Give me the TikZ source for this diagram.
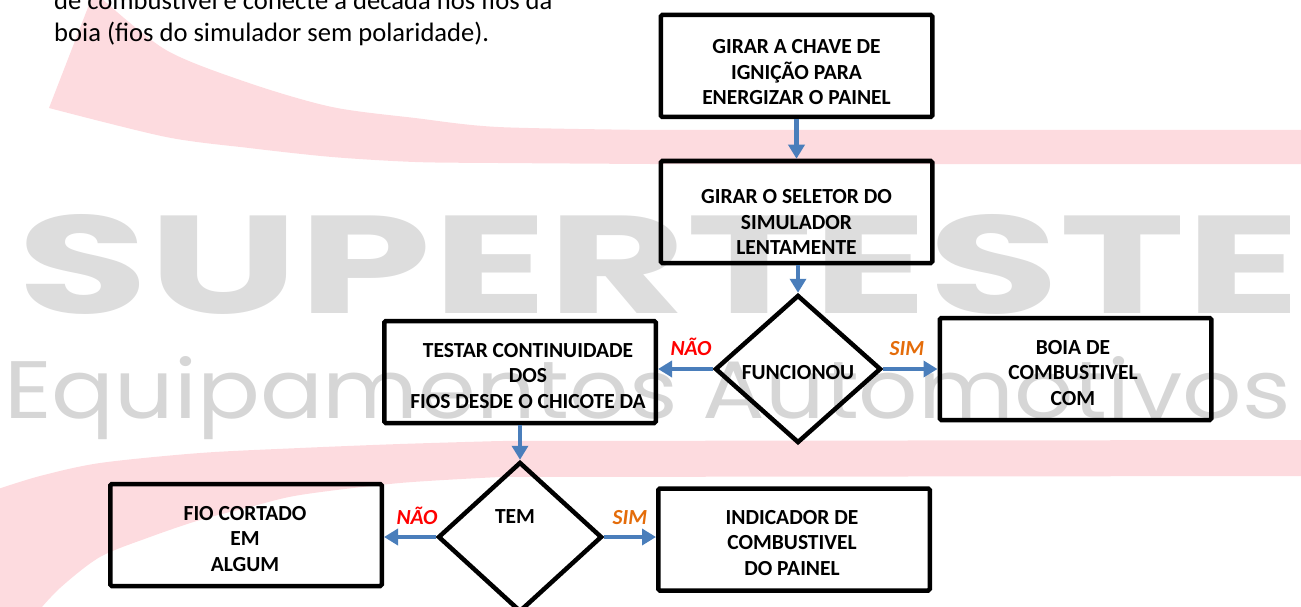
\documentclass[tikz,border=0pt]{standalone}
\usepackage{fontspec}
\setmainfont{Carlito}
\newfontfamily\wmfont{Poppins}
\usetikzlibrary{shapes.geometric,arrows.meta}
\definecolor{arrowblue}{RGB}{74,126,187}
\definecolor{bandpink}{RGB}{253,219,223}
\definecolor{wmgray}{RGB}{221,221,221}
\definecolor{wmgraytwo}{RGB}{214,214,214}
\definecolor{nored}{RGB}{255,0,0}
\definecolor{simorange}{RGB}{228,108,10}
\tikzset{
  stepbox/.style={draw=black, line width=4.5pt, rectangle, rounded corners=1.5pt,
    minimum width=271.5pt, minimum height=102pt, inner sep=0pt},
  decision/.style={draw=black, line width=4.5pt, diamond, inner sep=0pt},
  boxtext/.style={align=center, inner sep=0pt, text=black,
    font=\fontsize{21.5}{25.5}\selectfont\bfseries},
  notag/.style={anchor=base, inner sep=0pt, text=nored,
    font=\fontsize{21.5}{25.5}\selectfont\bfseries\itshape},
  simtag/.style={anchor=base, inner sep=0pt, text=simorange,
    font=\fontsize{21.5}{25.5}\selectfont\bfseries\itshape},
  flow/.style={draw=arrowblue, line width=4.5pt, -{Triangle[length=14pt,width=16pt]}},
  introtext/.style={anchor=base west, inner sep=0pt, text=black,
    font=\fontsize{26.6}{32}\selectfont}
}
\begin{document}
\begin{tikzpicture}[x=1pt,y=-1pt]
\useasboundingbox (0,0) rectangle (1301,607);
\begin{scope}
\clip (0,0) rectangle (1301,607);
% watermark bands
\fill[bandpink] (49,108) -- (92,-3) -- (100,-3)
  -- plot[smooth] coordinates {(100,-3)(166,50)(249,83)(332,107)(415,118)(498,127)(650,130)}
  -- (1310,130) -- (1310,164) -- (650,164)
  -- plot[smooth] coordinates {(650,164)(498,163)(415,162)(332,157)(249,148)(166,137)(49,108)} -- cycle;
\fill[bandpink] (1310,440) -- (500,441)
  -- plot[smooth] coordinates {(500,441)(400,444)(300,448)(200,453)(100,463)(40,476)(-5,490)}
  -- (-5,615) -- (35,615)
  -- plot[smooth] coordinates {(35,615)(60,588)(100,557)(150,537)(200,520)(250,507)(300,495)(400,483)(500,477)}
  -- (1310,476) -- cycle;
% watermark words
\node[anchor=base west, inner sep=0pt, text=wmgray] (wmone) at (17,313)
  {\resizebox{1283pt}{99pt}{\wmfont\bfseries SUPERTESTE}};
\node[anchor=base west, inner sep=0pt, text=wmgraytwo] (wmtwo) at (4,418)
  {\resizebox{1286pt}{62pt}{\wmfont Equipamentos Automotivos}};
% intro text
\node[introtext] (introone) at (54,10) {de combustível e conecte a década nos fios da};
\node[introtext] (introtwo) at (54,42) {boia (fios do simulador sem polaridade).};
\end{scope}

% boxes
\node[stepbox] (b1) at (796.5,66) {};
\node[boxtext] (b1t) at (796.5,72.5) {GIRAR A CHAVE DE\\IGNIÇÃO PARA\\ENERGIZAR O PAINEL};
\node[stepbox] (b2) at (796.5,212) {};
\node[boxtext] (b2t) at (796.5,222) {GIRAR O SELETOR DO\\SIMULADOR\\LENTAMENTE};
\node[decision, minimum width=166pt, minimum height=148pt] (d1) at (798,369) {};
\node[boxtext] (d1t) at (798,373) {FUNCIONOU};
\node[stepbox] (boia) at (1075.5,369) {};
\node[boxtext] (boiat) at (1073,373) {BOIA DE\\COMBUSTIVEL\\COM};
\node[stepbox] (testar) at (520,372) {};
\node[boxtext] (testart) at (528,376) {TESTAR CONTINUIDADE\\DOS\\FIOS DESDE O CHICOTE DA};
\node[decision, minimum width=164pt, minimum height=150pt] (d2) at (520,537) {};
\node[boxtext] (d2t) at (515,517) {TEM};
\node[stepbox] (fio) at (246,535) {};
\node[boxtext] (fiot) at (245,539) {FIO CORTADO\\EM\\ALGUM};
\node[stepbox] (ind) at (794,539.5) {};
\node[boxtext] (indt) at (792,543) {INDICADOR DE\\COMBUSTIVEL\\DO PAINEL};

% connectors
\draw[flow] (b1.south) -- (b2.north);
\draw[flow] (b2.south -| d1.north) -- (d1.north);
\draw[flow] (d1.west) -- (d1.west -| testar.east);
\draw[flow] (d1.east) -- (d1.east -| boia.west);
\draw[flow] (testar.south) -- (d2.north);
\draw[flow] (d2.west) -- (d2.west -| fio.east);
\draw[flow] (d2.east) -- (d2.east -| ind.west);

% branch labels
\node[notag] (nao1) at (691,355) {NÃO};
\node[simtag] (sim1) at (907,355) {SIM};
\node[notag] (nao2) at (417,524) {NÃO};
\node[simtag] (sim2) at (630,524) {SIM};
\end{tikzpicture}
\end{document}
